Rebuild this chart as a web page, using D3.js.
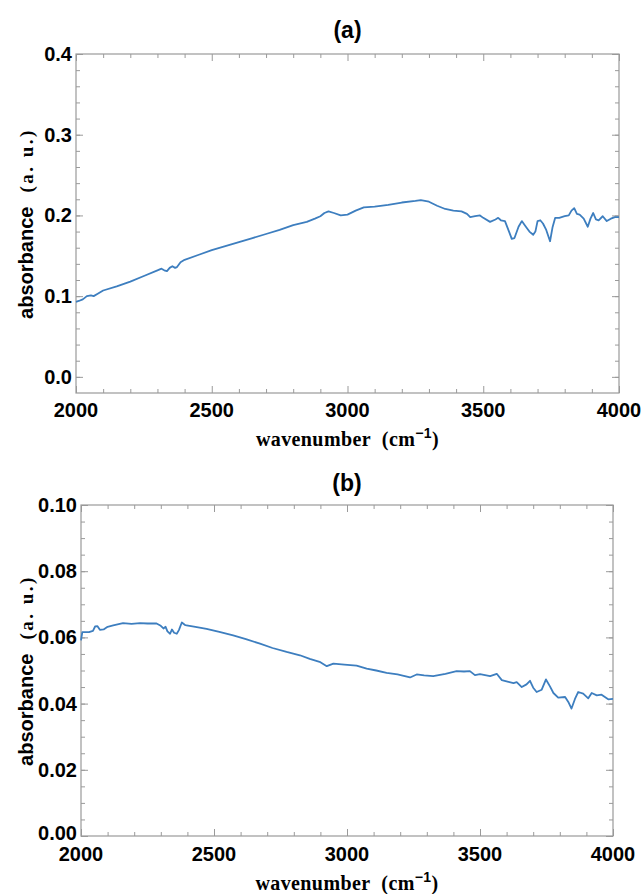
<!DOCTYPE html>
<html>
<head>
<meta charset="utf-8">
<script src="https://cdn.jsdelivr.net/npm/d3@7"></script>
<style>
  body { margin: 0; background: white; }
  .tickLabel { font-family: "Liberation Sans", Arial, sans-serif; font-weight: bold; font-size: 20px; fill: black; }
</style>
</head>
<body>
<div id="chart"></div>
<script>
// panel (a) spectrum
var wnA = [2000,2010,2025,2040,2055,2065,2080,2100,2150,2200,2250,2300,2315,2325,2335,2345,2355,2365,2372,2385,2400,2450,2500,2550,2600,2650,2700,2750,2800,2850,2880,2900,2915,2930,2950,2975,3000,3030,3060,3100,3150,3200,3250,3270,3300,3330,3360,3390,3420,3440,3452,3470,3488,3500,3525,3545,3555,3565,3580,3595,3605,3615,3630,3642,3655,3670,3684,3692,3700,3710,3720,3732,3746,3755,3765,3780,3800,3815,3825,3835,3845,3855,3870,3885,3895,3905,3915,3925,3940,3955,3970,3985,4000];
var absA = [0.093,0.094,0.096,0.100,0.101,0.100,0.103,0.107,0.112,0.118,0.125,0.132,0.134,0.132,0.131,0.135,0.137,0.135,0.136,0.142,0.145,0.151,0.157,0.162,0.167,0.172,0.177,0.182,0.188,0.192,0.196,0.199,0.203,0.205,0.203,0.200,0.201,0.206,0.210,0.211,0.213,0.216,0.218,0.219,0.217,0.212,0.208,0.206,0.205,0.202,0.198,0.199,0.200,0.197,0.192,0.195,0.197,0.194,0.193,0.180,0.171,0.172,0.186,0.193,0.187,0.180,0.176,0.180,0.193,0.194,0.190,0.182,0.168,0.185,0.197,0.197,0.199,0.200,0.206,0.209,0.202,0.201,0.196,0.186,0.196,0.203,0.195,0.194,0.199,0.193,0.196,0.198,0.198];

// panel (b) spectrum
var wnB = [2000,2005,2030,2045,2053,2062,2071,2085,2100,2121,2158,2190,2222,2250,2284,2300,2310,2318,2325,2335,2342,2350,2360,2368,2379,2390,2397,2430,2472,2520,2572,2620,2673,2720,2773,2823,2860,2900,2924,2949,2990,3036,3074,3110,3149,3190,3237,3262,3290,3324,3370,3412,3440,3462,3481,3500,3538,3563,3582,3607,3626,3638,3657,3675,3688,3700,3713,3732,3748,3763,3776,3794,3820,3832,3844,3857,3869,3888,3907,3920,3939,3957,3982,4000];
var absB = [0.0591,0.0616,0.0616,0.0620,0.0633,0.0634,0.0623,0.0624,0.0632,0.0636,0.0643,0.0641,0.0643,0.0642,0.0642,0.0635,0.0627,0.0632,0.0618,0.0611,0.0624,0.0614,0.0611,0.0622,0.0645,0.0638,0.0636,0.0632,0.0626,0.0617,0.0606,0.0595,0.0581,0.0568,0.0556,0.0546,0.0535,0.0525,0.0513,0.0521,0.0518,0.0515,0.0506,0.0500,0.0493,0.0488,0.0479,0.0488,0.0485,0.0483,0.0490,0.0498,0.0497,0.0498,0.0486,0.0489,0.0483,0.0490,0.0471,0.0466,0.0462,0.0465,0.0450,0.0458,0.0469,0.0448,0.0435,0.0442,0.0473,0.0452,0.0432,0.0418,0.0420,0.0405,0.0385,0.0414,0.0435,0.0430,0.0416,0.0432,0.0425,0.0427,0.0413,0.0414];

var xTicks = [2000,2500,3000,3500,4000];
var yTicksA = [0.0,0.1,0.2,0.3,0.4];
var yTicksB = [0.00,0.02,0.04,0.06,0.08,0.10];

var lineColor = "#3d7ebf";
var frameColor = "#9a9a9a";

var svg = d3.select("#chart").append("svg")
  .attr("width", 642)
  .attr("height", 894);

function drawPanel(opts) {
  var x = d3.scaleLinear().domain([2000, 4000]).range([opts.left, opts.right]);
  var y = d3.scaleLinear().domain(opts.yDomain).range([opts.bottom, opts.top]);
  var g = svg.append("g");

  var xMinor = d3.range(2000, 4001, 100).filter(function(v){ return v % 500 != 0; });
  var yMinor = d3.range(0, 100).map(function(i){ return +(i*opts.yMinorStep).toFixed(4); })
    .filter(function(v){ return v >= opts.yDomain[0] && v <= opts.yDomain[1]; });

  function tickAxis(axisFn, scale, vals, size, pos, horiz) {
    var a = g.append("g")
      .attr("transform", horiz ? "translate(0," + pos + ")" : "translate(" + pos + ",0)")
      .call(axisFn(scale).tickValues(vals).tickSize(size).tickFormat(""));
    a.select(".domain").remove();
    a.selectAll("line").attr("stroke", frameColor);
  }
  // inward ticks on all four sides
  tickAxis(d3.axisBottom, x, xTicks, -7, opts.bottom, true);
  tickAxis(d3.axisBottom, x, xMinor, -4, opts.bottom, true);
  tickAxis(d3.axisTop, x, xTicks, -7, opts.top, true);
  tickAxis(d3.axisTop, x, xMinor, -4, opts.top, true);
  tickAxis(d3.axisLeft, y, opts.yTicks, -7, opts.left, false);
  tickAxis(d3.axisLeft, y, yMinor, -4, opts.left, false);
  tickAxis(d3.axisRight, y, opts.yTicks, -7, opts.right, false);
  tickAxis(d3.axisRight, y, yMinor, -4, opts.right, false);

  g.append("rect")
    .attr("x", opts.left).attr("y", opts.top)
    .attr("width", opts.right - opts.left).attr("height", opts.bottom - opts.top)
    .attr("fill", "none").attr("stroke", frameColor).attr("stroke-width", 1.2);

  // tick labels
  g.selectAll(".xl").data(xTicks).enter().append("text")
    .attr("class", "tickLabel")
    .attr("x", function(d){ return x(d); })
    .attr("y", opts.xLabelY)
    .attr("text-anchor", "middle")
    .text(function(d){ return d; });
  g.selectAll(".yl").data(opts.yTicks).enter().append("text")
    .attr("class", "tickLabel")
    .attr("x", opts.left - 4)
    .attr("y", function(d){ return y(d) + (d == 0 && opts.digits == 2 ? 4 : 7); })
    .attr("text-anchor", "end")
    .text(function(d){ return d.toFixed(opts.digits); });

  // the spectrum
  var pts = opts.wn.map(function(w, i){ return [w, opts.abs[i]]; });
  g.append("path")
    .datum(pts)
    .attr("fill", "none")
    .attr("stroke", lineColor)
    .attr("stroke-width", 1.8)
    .attr("stroke-linejoin", "round")
    .attr("d", d3.line().x(function(d){ return x(d[0]); }).y(function(d){ return y(d[1]); }));

  // title
  g.append("text")
    .attr("x", (opts.left + opts.right) / 2)
    .attr("y", opts.titleY)
    .attr("text-anchor", "middle")
    .style("font-family", "Liberation Sans, Arial, sans-serif")
    .style("font-weight", "bold")
    .style("font-size", "23px")
    .text(opts.title);

  // x axis label
  var xl = g.append("text")
    .attr("x", (opts.left + opts.right) / 2)
    .attr("y", opts.xTitleY)
    .attr("text-anchor", "middle")
    .style("font-family", "Liberation Serif, Times New Roman, serif")
    .style("font-weight", "bold")
    .style("font-size", "20px")
    .style("letter-spacing", "0.4px");
  xl.append("tspan").text("wavenumber\u00a0 (cm");
  xl.append("tspan").attr("dy", -8)
    .style("font-family", "Liberation Sans, Arial, sans-serif")
    .style("font-size", "14px").text("\u22121");
  xl.append("tspan").attr("dy", 8).text(")");

  // y axis label
  var cy = (opts.top + opts.bottom) / 2;
  var yl = g.append("text")
    .attr("transform", "translate(33," + cy + ") rotate(-90)")
    .attr("text-anchor", "middle")
    .style("font-weight", "bold");
  yl.append("tspan")
    .style("font-family", "Liberation Sans, Arial, sans-serif")
    .style("font-size", "20px")
    .text("absorbance");
  yl.append("tspan")
    .attr("dx", 14)
    .style("font-family", "Liberation Serif, Times New Roman, serif")
    .style("font-size", "19px")
    .style("letter-spacing", "2.5px")
    .text("(a. u.)");
}

drawPanel({
  wn: wnA, abs: absA,
  left: 76, right: 619, top: 54, bottom: 393,
  yDomain: [-0.02, 0.4], yTicks: yTicksA, yMinorStep: 0.02, digits: 1,
  xLabelY: 417, xTitleY: 446, titleY: 38, title: "(a)"
});

drawPanel({
  wn: wnB, abs: absB,
  left: 81, right: 613, top: 505, bottom: 836,
  yDomain: [0, 0.1], yTicks: yTicksB, yMinorStep: 0.005, digits: 2,
  xLabelY: 861, xTitleY: 890, titleY: 491, title: "(b)"
});
</script>
</body>
</html>
